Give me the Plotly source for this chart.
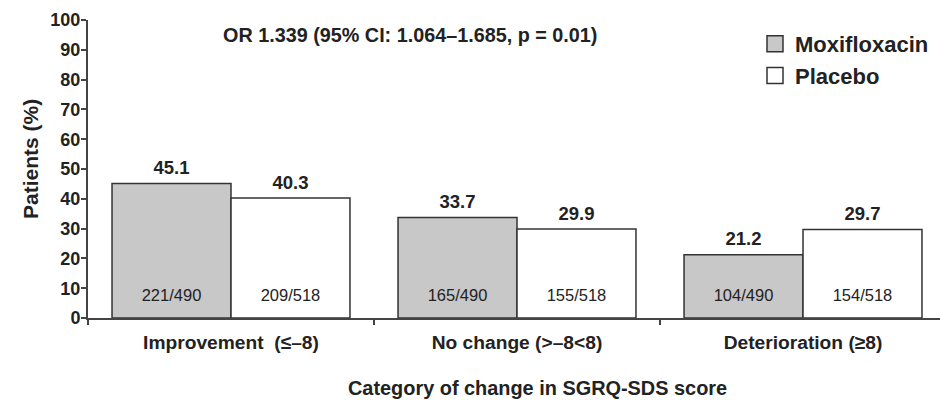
import plotly.graph_objects as go

categories = ["Improvement  (≤–8)", "No change (>–8<8)", "Deterioration (≥8)"]
moxi_values = [45.1, 33.7, 21.2]
placebo_values = [40.3, 29.9, 29.7]
moxi_counts = ["221/490", "165/490", "104/490"]
placebo_counts = ["209/518", "155/518", "154/518"]
y_ticks = [0, 10, 20, 30, 40, 50, 60, 70, 80, 90, 100]

COUNT_LABEL_Y = 7
FONT = "Liberation Sans, Arial, sans-serif"
EDGE = "#333333"
GRAY = "#c8c8c8"
TXT = "#222222"

fig = go.Figure()

for name, vals, counts, color, grp in [
    ("Moxifloxacin", moxi_values, moxi_counts, GRAY, "m"),
    ("Placebo", placebo_values, placebo_counts, "white", "p"),
]:
    fig.add_trace(go.Bar(
        x=categories, y=vals, name=name, offsetgroup=grp,
        marker=dict(color=color, line=dict(color=EDGE, width=1.5)),
        showlegend=False, hoverinfo="skip",
    ))
    # value labels above bars
    fig.add_trace(go.Scatter(
        x=categories, y=vals, mode="markers+text", offsetgroup=grp,
        text=[f"{v:.1f}" for v in vals], textposition="top center",
        marker=dict(size=6, opacity=0),
        textfont=dict(family=FONT, size=18.5, color=TXT, weight="bold"),
        showlegend=False, hoverinfo="skip", cliponaxis=False,
    ))
    # count labels inside bars
    fig.add_trace(go.Scatter(
        x=categories, y=[COUNT_LABEL_Y] * len(categories), mode="text",
        offsetgroup=grp, text=counts, textposition="middle center",
        textfont=dict(family=FONT, size=16.5, color=TXT),
        showlegend=False, hoverinfo="skip",
    ))
    # legend entry
    fig.add_trace(go.Scatter(
        x=[None], y=[None], mode="markers", name=name,
        marker=dict(symbol="square", size=16, color=color,
                    line=dict(color=EDGE, width=1.5)),
        showlegend=True,
    ))

fig.update_layout(
    width=940, height=400,
    margin=dict(l=88, r=0, t=20, b=82, autoexpand=False),
    paper_bgcolor="white", plot_bgcolor="white",
    barmode="group", scattermode="group",
    bargap=0.168, bargroupgap=0,
    font=dict(family=FONT, color=TXT),
    showlegend=True,
    legend=dict(
        x=(755 - 88) / 852, y=0.99, xanchor="left", yanchor="top",
        bgcolor="rgba(0,0,0,0)",
        font=dict(family=FONT, size=22, color=TXT, weight="bold"),
        tracegroupgap=0,
    ),
    xaxis=dict(
        range=[-0.5, 2.479], showgrid=False, zeroline=False,
        showline=True, linecolor="#444444", linewidth=2,
        ticks="outside", tickson="boundaries", ticklen=5,
        tickcolor="#444444", tickwidth=1.5, automargin=False,
        ticklabelstandoff=6,
        tickfont=dict(family=FONT, size=19.2, color=TXT, weight="bold"),
    ),
    yaxis=dict(
        range=[0, 100], tickvals=y_ticks, showgrid=False, zeroline=False,
        showline=True, linecolor="#444444", linewidth=2,
        ticks="outside", ticklen=5, tickcolor="#444444", tickwidth=1.5,
        automargin=False, ticklabelstandoff=-3,
        tickfont=dict(family=FONT, size=18, color=TXT, weight="bold"),
    ),
    annotations=[
        dict(text="OR 1.339 (95% CI: 1.064–1.685, p = 0.01)",
             xref="paper", yref="paper",
             x=(410 - 88) / 852, y=1 - (35 - 20) / 298,
             xanchor="center", yanchor="middle", showarrow=False,
             font=dict(family=FONT, size=19.8, color=TXT, weight="bold")),
        dict(text="Category of change in SGRQ-SDS score",
             xref="paper", yref="paper",
             x=(537 - 88) / 852, y=-(388 - 318) / 298,
             xanchor="center", yanchor="middle", showarrow=False,
             font=dict(family=FONT, size=19.9, color=TXT, weight="bold")),
        dict(text="Patients (%)", textangle=-90,
             xref="paper", yref="paper",
             x=-(88 - 30) / 852, y=(318 - 159) / 298,
             xanchor="center", yanchor="middle", showarrow=False,
             font=dict(family=FONT, size=21, color=TXT, weight="bold")),
    ],
)

fig.write_html(
    "out.html",
    config={"displayModeBar": False},
    post_script="document.body.style.margin='0';document.body.style.overflow='hidden';",
)
